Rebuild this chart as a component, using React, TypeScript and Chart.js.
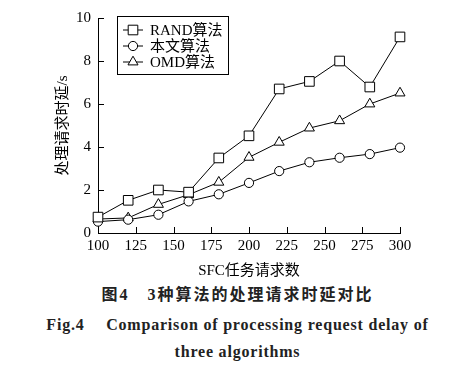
import React, { useEffect, useRef } from "react";
import { Chart, registerables } from "chart.js";

Chart.register(...registerables);

const xValues = [100, 120, 140, 160, 180, 200, 220, 240, 260, 280, 300];
const randDelay = [0.74, 1.52, 2.0, 1.9, 3.49, 4.52, 6.7, 7.05, 8.0, 6.79, 9.12];
const oursDelay = [0.53, 0.62, 0.85, 1.47, 1.8, 2.33, 2.88, 3.29, 3.5, 3.67, 3.97];
const omdDelay = [0.65, 0.7, 1.33, 1.78, 2.36, 3.52, 4.22, 4.88, 5.22, 6.0, 6.51];
const seriesLabels = ["RAND算法", "本文算法", "OMD算法"];
const xTitle = "SFC任务请求数";
const yTitle = "处理请求时延/s";
const captionCn = "图4　3种算法的处理请求时延对比";
const captionEn1 = "Fig.4　 Comparison of processing request delay of";
const captionEn2 = "three algorithms";

const FONT = "'Liberation Serif', 'Times New Roman', 'Noto Sans CJK SC', serif";

const inwardTicks = {
  id: "inwardTicks",
  afterDraw(chart: any) {
    const ctx = chart.ctx;
    const xs = chart.scales.x;
    const ys = chart.scales.y;
    const area = chart.chartArea;
    ctx.save();
    ctx.strokeStyle = "#000";
    ctx.lineWidth = 1;
    ctx.beginPath();
    xs.ticks.forEach((t: any) => {
      const px = Math.round(xs.getPixelForValue(t.value)) + 0.5;
      ctx.moveTo(px, area.bottom);
      ctx.lineTo(px, area.bottom - 6);
    });
    ys.ticks.forEach((t: any) => {
      const py = Math.round(ys.getPixelForValue(t.value)) + 0.5;
      ctx.moveTo(area.left, py);
      ctx.lineTo(area.left + 6, py);
    });
    ctx.stroke();
    ctx.restore();
  },
};

function drawMarker(ctx: CanvasRenderingContext2D, style: string, r: number, x: number, y: number) {
  ctx.save();
  ctx.beginPath();
  if (style === "rect") {
    const s = Math.SQRT1_2 * r;
    ctx.rect(x - s, y - s, 2 * s, 2 * s);
  } else if (style === "circle") {
    ctx.arc(x, y, r, 0, Math.PI * 2);
  } else {
    const rad = -Math.PI / 2;
    ctx.moveTo(x + Math.cos(rad) * r, y + Math.sin(rad) * r);
    for (let k = 1; k < 3; k++) {
      const a = rad + (k * 2 * Math.PI) / 3;
      ctx.lineTo(x + Math.cos(a) * r, y + Math.sin(a) * r);
    }
    ctx.closePath();
  }
  ctx.fillStyle = "#fff";
  ctx.fill();
  ctx.strokeStyle = "#000";
  ctx.lineWidth = 1;
  ctx.stroke();
  ctx.restore();
}

const boxLegend = {
  id: "boxLegend",
  afterDraw(chart: any) {
    const ctx = chart.ctx;
    const area = chart.chartArea;
    const bx = area.left + 19;
    const by = area.top - 2;
    const bw = 111;
    const bh = 58;
    ctx.save();
    ctx.fillStyle = "#fff";
    ctx.fillRect(bx, by, bw, bh);
    ctx.strokeStyle = "#000";
    ctx.lineWidth = 1;
    ctx.strokeRect(Math.round(bx) + 0.5, Math.round(by) + 0.5, bw, bh);
    chart.data.datasets.forEach((ds: any, i: number) => {
      const cy = by + 14 + i * 16;
      const lx0 = bx + 6;
      const lx1 = bx + 26;
      ctx.strokeStyle = "#000";
      ctx.lineWidth = 1;
      ctx.beginPath();
      ctx.moveTo(lx0, cy);
      ctx.lineTo(lx1, cy);
      ctx.stroke();
      drawMarker(ctx, ds.pointStyle, ds.pointRadius, (lx0 + lx1) / 2, cy);
      ctx.fillStyle = "#000";
      ctx.font = `15px ${FONT}`;
      ctx.textBaseline = "middle";
      ctx.textAlign = "left";
      ctx.fillText(ds.label, bx + 33, cy + 1);
    });
    ctx.restore();
  },
};

export default function App() {
  const ref = useRef<HTMLCanvasElement | null>(null);
  useEffect(() => {
    if (!ref.current) return;
    const mk = (vals: number[]) => vals.map((v, i) => ({ x: xValues[i], y: v }));
    const common = {
      borderColor: "#000",
      borderWidth: 1,
      pointBackgroundColor: "#fff",
      pointBorderColor: "#000",
      pointBorderWidth: 1,
      clip: false as any,
      tension: 0,
    };
    const chart = new Chart(ref.current, {
      type: "line",
      data: {
        datasets: [
          { ...common, label: seriesLabels[0], data: mk(randDelay), pointStyle: "rect", pointRadius: 6.8 },
          { ...common, label: seriesLabels[1], data: mk(oursDelay), pointStyle: "circle", pointRadius: 4.6 },
          { ...common, label: seriesLabels[2], data: mk(omdDelay), pointStyle: "triangle", pointRadius: 5.8 },
        ],
      },
      options: {
        responsive: false,
        animation: false,
        maintainAspectRatio: false,
        layout: { padding: { left: 50, right: 75, top: 18, bottom: 0 } },
        plugins: { legend: { display: false }, tooltip: { enabled: false } },
        scales: {
          x: {
            type: "linear",
            min: 100,
            max: 300,
            grid: { display: false, drawTicks: false },
            border: { display: true, color: "#000", width: 1 },
            ticks: { stepSize: 25, color: "#000", padding: 4, font: { family: FONT, size: 15 }, maxRotation: 0 },
            title: { display: true, text: xTitle, color: "#000", font: { family: FONT, size: 15 }, padding: { top: 3, bottom: 0 } },
            afterFit: (s: any) => { s.height = 47; },
          },
          y: {
            min: 0,
            max: 10,
            grid: { display: false, drawTicks: false },
            border: { display: true, color: "#000", width: 1 },
            ticks: { stepSize: 2, color: "#000", padding: 7, font: { family: FONT, size: 15 } },
            title: { display: true, text: yTitle, color: "#000", font: { family: FONT, size: 15 }, padding: { top: 4, bottom: 0 } },
            afterFit: (s: any) => { s.width = 48; },
          },
        },
      },
      plugins: [inwardTicks, boxLegend],
    });
    return () => chart.destroy();
  }, []);

  const capBase: React.CSSProperties = {
    position: "absolute",
    left: 0,
    width: 475,
    textAlign: "center",
    color: "#222",
    fontWeight: "bold",
    whiteSpace: "nowrap",
    lineHeight: "20px",
  };

  return (
    <div style={{ position: "absolute", left: 0, top: 0, width: 475, height: 372, background: "#fff" }}>
      <canvas ref={ref} width={475} height={280} style={{ position: "absolute", left: 0, top: 0, width: 475, height: 280 }} />
      <div style={{ ...capBase, top: 285, fontSize: 16, letterSpacing: 2, fontFamily: FONT }}>{captionCn}</div>
      <div style={{ ...capBase, top: 315, fontSize: 16, letterSpacing: 0.8, fontFamily: FONT }}>{captionEn1}</div>
      <div style={{ ...capBase, top: 342, fontSize: 16, letterSpacing: 0.8, fontFamily: FONT }}>{captionEn2}</div>
    </div>
  );
}
